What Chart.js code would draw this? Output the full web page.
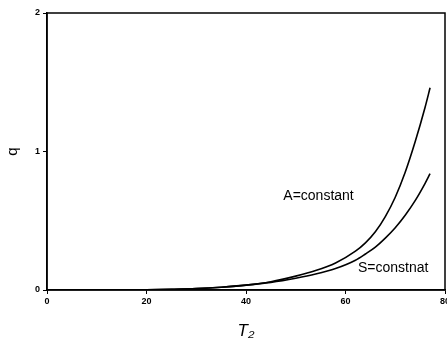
<!DOCTYPE html>
<html><head><meta charset="utf-8">
<script src="https://cdn.jsdelivr.net/npm/chart.js@4"></script>
<style>html,body{margin:0;padding:0;background:#fff;}#w{width:447px;height:345px;}</style>
</head><body><div id="w"><canvas id="c" width="447" height="345"></canvas></div>
<script>
const xValues = [0, 10, 20, 25, 30, 35, 40, 45, 50, 54, 58, 62, 64, 66, 68, 70, 72, 74, 76, 77];
const seriesA = [0, 0, 0.002, 0.005, 0.01, 0.02, 0.035, 0.06, 0.10, 0.14, 0.195, 0.28, 0.34, 0.42, 0.53, 0.67, 0.85, 1.07, 1.32, 1.46];
const seriesS = [0, 0, 0.002, 0.005, 0.01, 0.02, 0.035, 0.055, 0.085, 0.115, 0.155, 0.215, 0.26, 0.31, 0.375, 0.45, 0.54, 0.645, 0.77, 0.84];
const seriesNames = ["A=constant", "S=constnat"];
const labelPos = [[47.5, 0.68], [62.5, 0.16]];
const xTicks = [0, 20, 40, 60, 80];
const yTicks = [0, 1, 2];

const toPts = ys => xValues.map((x, i) => ({x, y: ys[i]}));
const tickFont = {family: "Liberation Sans, Arial", size: 9, weight: "bold"};

const deco = {
  id: "deco",
  afterDraw(chart) {
    const {ctx, chartArea: a, scales: {x, y}} = chart;
    ctx.save();
    ctx.strokeStyle = "#000"; ctx.lineWidth = 1.5;
    ctx.strokeRect(a.left, a.top, a.right - a.left, a.bottom - a.top);
    ctx.fillStyle = "#000";
    ctx.font = "14px Liberation Sans, Arial";
    ctx.textBaseline = "middle"; ctx.textAlign = "left";
    seriesNames.forEach((n, i) => ctx.fillText(n, x.getPixelForValue(labelPos[i][0]), y.getPixelForValue(labelPos[i][1])));
    ctx.restore();
  }
};

new Chart(document.getElementById("c"), {
  type: "scatter",
  data: {datasets: [
    {label: seriesNames[0], data: toPts(seriesA), showLine: true, borderColor: "#000", borderWidth: 1.6, pointRadius: 0, cubicInterpolationMode: "monotone"},
    {label: seriesNames[1], data: toPts(seriesS), showLine: true, borderColor: "#000", borderWidth: 1.6, pointRadius: 0, cubicInterpolationMode: "monotone"}
  ]},
  options: {
    responsive: false, animation: false, devicePixelRatio: 1,
    layout: {padding: {top: 13, right: 2, left: 0, bottom: 0}},
    plugins: {legend: {display: false}, tooltip: {enabled: false}},
    scales: {
      x: {type: "linear", min: 0, max: 80,
        afterBuildTicks: s => { s.ticks = xTicks.map(v => ({value: v})); },
        afterFit: s => { s.height = 55; s.paddingRight = 0; s.paddingLeft = 0; },
        grid: {drawOnChartArea: false, tickLength: 4, color: "#000"},
        border: {color: "#000", width: 1.5},
        ticks: {color: "#000", font: tickFont, padding: 2, maxRotation: 0},
        title: {display: true, text: "T₂", color: "#000", font: {family: "Liberation Sans, Arial", size: 17, style: "italic"}, padding: {top: 8}}
      },
      y: {type: "linear", min: 0, max: 2,
        afterBuildTicks: s => { s.ticks = yTicks.map(v => ({value: v})); },
        afterFit: s => { s.width = 47; s.paddingTop = 0; s.paddingBottom = 0; },
        grid: {drawOnChartArea: false, tickLength: 4, color: "#000"},
        border: {color: "#000", width: 1.5},
        ticks: {color: "#000", font: tickFont, padding: 3},
        title: {display: true, text: "q", color: "#000", font: {family: "Liberation Sans, Arial", size: 15}, padding: {bottom: 6}}
      }
    }
  },
  plugins: [deco]
});
</script></body></html>
